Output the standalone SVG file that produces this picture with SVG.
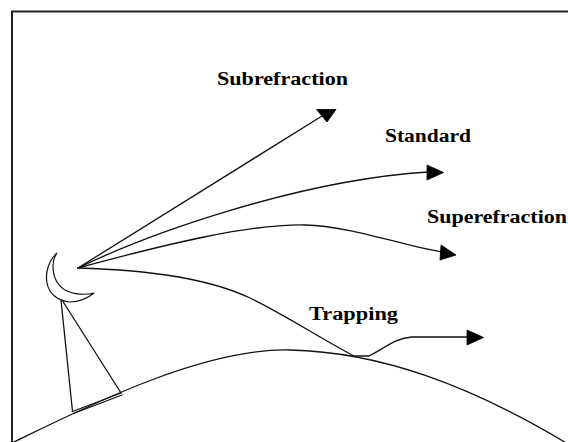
<svg xmlns="http://www.w3.org/2000/svg" width="568" height="442" viewBox="0 0 568 442">
<style>
.ln{fill:none;stroke:#111;stroke-width:1.3;stroke-linejoin:round;stroke-linecap:round}
.ah{fill:#000;stroke:#000;stroke-width:0.8;stroke-linejoin:round}
.lbl{font-family:"Liberation Serif","Times New Roman",serif;font-weight:bold;font-size:18px;fill:#000}
</style>
<rect x="0" y="0" width="568" height="442" fill="#fff"/>
<path d="M12,442 V11.5 H568" fill="none" stroke="#222" stroke-width="2"/>
<g id="ground">
<path class="ln" d="M12,443 C80,410 200,348 290,350 C380,352 470,385 568,444"/>
</g>
<g id="antenna">
<path class="ln" d="M61,300 L72.5,411.5 M62,300 L121,393"/>
<path class="ln" d="M72.5,411.5 L121,393 M73.5,413.5 L122,395" stroke-width="1.1"/>
<path d="M57,253 C49,260 45,272 47,283 C49,294 58,301 70,302 C80,302 88,298 94,293 C86,295 74,295 65,290 C57,285 53,276 53,266 C53,261 55,256 57,253 Z" fill="#fff" stroke="#111" stroke-width="1.2"/>
</g>
<g id="connectors">
<g id="ray-subrefraction">
<path class="ln" d="M78,268 L322,116"/>
<polygon class="ah" points="316.5,109.5 336,109.5 327,122"/>
</g>
<g id="ray-standard">
<path class="ln" d="M78,268 C150,233 300,180 428,172"/>
<polygon class="ah" points="427,165 443.5,172.5 427,180"/>
</g>
<g id="ray-superefraction">
<path class="ln" d="M78,268 C170,243 250,224 305,225 C350,226 400,245 442,252"/>
<polygon class="ah" points="441,245 456,255 440,260"/>
</g>
<g id="ray-trapping">
<path class="ln" d="M78,268 C150,270 210,279 250,298 C280,312 320,338 354,356 L369,356 C385,348 395,338 412,337 L468,337"/>
<polygon class="ah" points="467,330 483.5,337.5 467,345"/>
</g>
</g>
<g id="label-subrefraction"><text class="lbl" x="217" y="85" textLength="131" lengthAdjust="spacingAndGlyphs">Subrefraction</text></g>
<g id="label-standard"><text class="lbl" x="385" y="141.5" textLength="86" lengthAdjust="spacingAndGlyphs">Standard</text></g>
<g id="label-superefraction"><text class="lbl" x="427" y="222.5" textLength="140" lengthAdjust="spacingAndGlyphs">Superefraction</text></g>
<g id="label-trapping"><text class="lbl" x="309" y="320" textLength="89" lengthAdjust="spacingAndGlyphs">Trapping</text></g>
</svg>
